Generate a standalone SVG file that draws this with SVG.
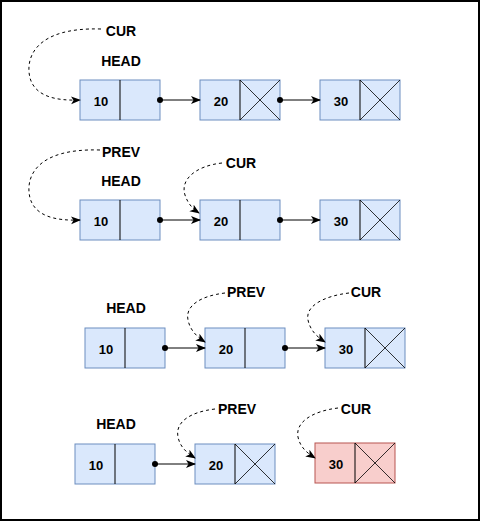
<svg xmlns="http://www.w3.org/2000/svg" width="481" height="522" viewBox="0 0 481 522">
<style>
.box{fill:#dae8fc;stroke:#6c8ebf;stroke-width:1}
.red{fill:#f8cecc;stroke:#b85450;stroke-width:1}
.div{stroke:#000;stroke-width:1;fill:none}
.x{stroke:#000;stroke-width:0.8;fill:none}
.num{font-family:"Liberation Sans",Arial,sans-serif;font-size:13px;font-weight:bold;fill:#000;text-anchor:middle}
.lbl{font-family:"Liberation Sans",Arial,sans-serif;font-size:14px;font-weight:bold;fill:#000;text-anchor:middle}
.link{stroke:#000;stroke-width:1;fill:none;marker-end:url(#arr)}
.ptr{stroke:#000;stroke-width:1;fill:none;stroke-dasharray:3 3;marker-end:url(#arr)}
</style>
<defs>
<marker id="arr" viewBox="0 0 10 10" refX="9" refY="5" markerWidth="10" markerHeight="10" markerUnits="userSpaceOnUse" orient="auto">
<path d="M0,1 L10,5 L0,9 L2.5,5 Z" fill="#000"/>
</marker>
</defs>
<rect x="1" y="1" width="478" height="519" fill="#fff" stroke="#000" stroke-width="2"/>

<!-- Row 1 -->
<g id="r1n1"><rect class="box" x="80" y="80" width="80" height="40"/><line class="div" x1="120" y1="80" x2="120" y2="120"/><text class="num" x="101" y="106">10</text></g>
<g id="r1n2"><rect class="box" x="200" y="80" width="80" height="40"/><line class="div" x1="240" y1="80" x2="240" y2="120"/><line class="x" x1="240" y1="80" x2="280" y2="120"/><line class="x" x1="280" y1="80" x2="240" y2="120"/><text class="num" x="221" y="106">20</text></g>
<g id="r1n3"><rect class="box" x="320" y="80" width="80" height="40"/><line class="div" x1="360" y1="80" x2="360" y2="120"/><line class="x" x1="360" y1="80" x2="400" y2="120"/><line class="x" x1="400" y1="80" x2="360" y2="120"/><text class="num" x="341" y="106">30</text></g>
<g id="r1cur"><text class="lbl" x="121" y="36">CUR</text></g>
<g id="r1head"><text class="lbl" x="121" y="66">HEAD</text></g>

<!-- Row 2 -->
<g id="r2n1"><rect class="box" x="80" y="200" width="80" height="40"/><line class="div" x1="120" y1="200" x2="120" y2="240"/><text class="num" x="101" y="226">10</text></g>
<g id="r2n2"><rect class="box" x="200" y="200" width="80" height="40"/><line class="div" x1="240" y1="200" x2="240" y2="240"/><text class="num" x="221" y="226">20</text></g>
<g id="r2n3"><rect class="box" x="320" y="200" width="80" height="40"/><line class="div" x1="360" y1="200" x2="360" y2="240"/><line class="x" x1="360" y1="200" x2="400" y2="240"/><line class="x" x1="400" y1="200" x2="360" y2="240"/><text class="num" x="341" y="226">30</text></g>
<g id="r2prev"><text class="lbl" x="121" y="157">PREV</text></g>
<g id="r2head"><text class="lbl" x="121" y="186">HEAD</text></g>
<g id="r2cur"><text class="lbl" x="241" y="168">CUR</text></g>

<!-- Row 3 -->
<g id="r3n1"><rect class="box" x="85" y="328" width="80" height="40"/><line class="div" x1="125" y1="328" x2="125" y2="368"/><text class="num" x="106" y="354">10</text></g>
<g id="r3n2"><rect class="box" x="205" y="328" width="80" height="40"/><line class="div" x1="245" y1="328" x2="245" y2="368"/><text class="num" x="226" y="354">20</text></g>
<g id="r3n3"><rect class="box" x="325" y="328" width="80" height="40"/><line class="div" x1="365" y1="328" x2="365" y2="368"/><line class="x" x1="365" y1="328" x2="405" y2="368"/><line class="x" x1="405" y1="328" x2="365" y2="368"/><text class="num" x="346" y="354">30</text></g>
<g id="r3head"><text class="lbl" x="126" y="313">HEAD</text></g>
<g id="r3prev"><text class="lbl" x="246" y="297">PREV</text></g>
<g id="r3cur"><text class="lbl" x="366" y="297">CUR</text></g>

<!-- Row 4 -->
<g id="r4n1"><rect class="box" x="75" y="444" width="80" height="40"/><line class="div" x1="115" y1="444" x2="115" y2="484"/><text class="num" x="96" y="470">10</text></g>
<g id="r4n2"><rect class="box" x="195" y="444" width="80" height="40"/><line class="div" x1="235" y1="444" x2="235" y2="484"/><line class="x" x1="235" y1="444" x2="275" y2="484"/><line class="x" x1="275" y1="444" x2="235" y2="484"/><text class="num" x="216" y="470">20</text></g>
<g id="r4n3"><rect class="red" x="315" y="443" width="80" height="40"/><line class="div" x1="355" y1="443" x2="355" y2="483"/><line class="x" x1="355" y1="443" x2="395" y2="483"/><line class="x" x1="395" y1="443" x2="355" y2="483"/><text class="num" x="336" y="469">30</text></g>
<g id="r4head"><text class="lbl" x="116" y="429">HEAD</text></g>
<g id="r4prev"><text class="lbl" x="237" y="414">PREV</text></g>
<g id="r4cur"><text class="lbl" x="356" y="414">CUR</text></g>

<g id="connectors">
<!-- next links -->
<circle cx="160" cy="100" r="3"/><path class="link" d="M160,100 H200"/>
<circle cx="280" cy="100" r="3"/><path class="link" d="M280,100 H320"/>
<circle cx="160" cy="220" r="3"/><path class="link" d="M160,220 H200"/>
<circle cx="280" cy="220" r="3"/><path class="link" d="M280,220 H320"/>
<circle cx="165" cy="348" r="3"/><path class="link" d="M165,348 H205"/>
<circle cx="285" cy="348" r="3"/><path class="link" d="M285,348 H325"/>
<circle cx="155" cy="464" r="3"/><path class="link" d="M155,464 H195"/>
<!-- pointers -->
<path class="ptr" d="M101,29 C35,27 25,58 30,78 C35,96 55,101 80,100"/>
<path class="ptr" d="M100,150 C35,148 25,178 30,198 C35,216 55,221 80,220"/>
<path class="ptr" d="M222,163 C195,166 180,180 185,195 C188,204 193,209 199,213"/>
<path class="ptr" d="M225,293 C200,296 185,306 188,320 C190,330 197,337 205,342"/>
<path class="ptr" d="M349,293 C324,296 305,306 308,320 C310,330 317,337 325,342"/>
<path class="ptr" d="M215,409 C190,412 175,422 178,437 C180,447 187,453 195,458"/>
<path class="ptr" d="M338,408 C313,411 295,422 298,437 C300,447 307,453 315,458"/>
</g>
</svg>
